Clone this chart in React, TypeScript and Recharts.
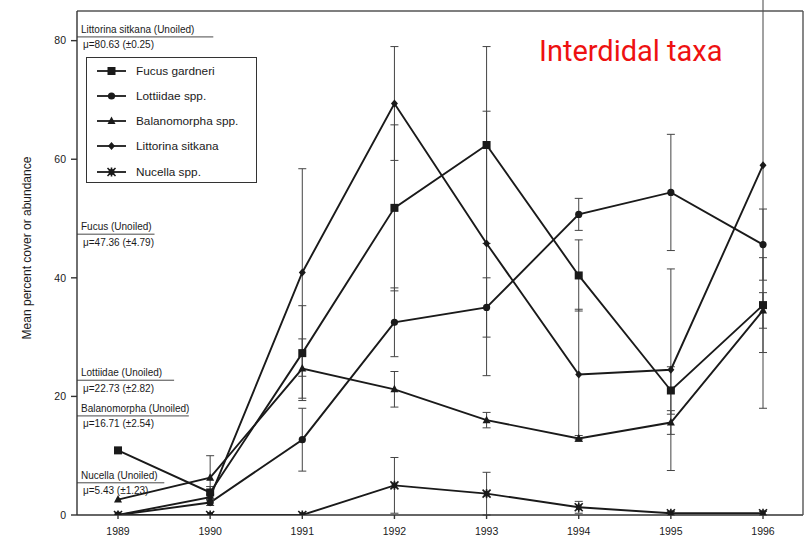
import React from 'react';
import { LineChart, Line, XAxis, YAxis, ErrorBar, Legend, ReferenceDot } from 'recharts';

const years = [1989, 1990, 1991, 1992, 1993, 1994, 1995, 1996];
const fucus = [10.9, 3.8, 27.3, 51.8, 62.4, 40.4, 21.0, 35.4];
const fucusErr = [0, 1, 8, 14, 16.6, 6, 4, 8];
const lottiidae = [0, 2.1, 12.7, 32.5, 35.0, 50.7, 54.4, 45.6];
const lottiidaeErr = [0, 0.5, 5.3, 5.8, 5, 2.7, 9.8, 6];
const balanomorpha = [2.6, 6.3, 24.7, 21.2, 16.0, 12.9, 15.6, 34.5];
const balanomorphaErr = [0, 3.7, 5, 3, 1.3, 0.5, 2, 3];
const littorina = [0, 3.0, 40.9, 69.4, 45.8, 23.7, 24.5, 59.0];
const littorinaErr = [0, 0.5, 17.5, 9.6, 22.3, 11, 17, 41];
const nucella = [0, 0, 0, 5.0, 3.6, 1.3, 0.3, 0.3];
const nucellaErr = [0, 0, 0, 4.7, 3.6, 1, 0.3, 0.3];

const seriesNames = ['Fucus gardneri', 'Lottiidae spp.', 'Balanomorpha spp.', 'Littorina sitkana', 'Nucella spp.'];
const seriesKeys = ['fucus', 'lottiidae', 'balanomorpha', 'littorina', 'nucella'];
const seriesMarkers = ['square', 'circle', 'triangle', 'diamond', 'star'];

const unoiledLabels = ['Littorina sitkana (Unoiled)', 'Fucus (Unoiled)', 'Lottiidae (Unoiled)', 'Balanomorpha (Unoiled)', 'Nucella (Unoiled)'];
const unoiledMeans = [80.63, 47.36, 22.73, 16.71, 5.43];
const unoiledSE = [0.25, 4.79, 2.82, 2.54, 1.23];

const yTicks = [0, 20, 40, 60, 80];
const xDomain = [1988.555, 1996.434];
const yDomain = [0, 85];

const data = years.map((year, i) => ({
  year,
  fucus: fucus[i], fucusErr: fucusErr[i],
  lottiidae: lottiidae[i], lottiidaeErr: lottiidaeErr[i],
  balanomorpha: balanomorpha[i], balanomorphaErr: balanomorphaErr[i],
  littorina: littorina[i], littorinaErr: littorinaErr[i],
  nucella: nucella[i], nucellaErr: nucellaErr[i],
}));

const INK = '#1a1a1a';
const FONT = '"Liberation Sans", Arial, sans-serif';

function Marker({ kind, cx, cy }: { kind: string; cx: number; cy: number }) {
  if (cx == null || cy == null) return null;
  switch (kind) {
    case 'square':
      return <rect x={cx - 4} y={cy - 4} width={8} height={8} fill={INK} />;
    case 'circle':
      return <circle cx={cx} cy={cy} r={3.6} fill={INK} />;
    case 'triangle':
      return <polygon points={`${cx},${cy - 4.5} ${cx + 4},${cy + 3} ${cx - 4},${cy + 3}`} fill={INK} />;
    case 'diamond':
      return <polygon points={`${cx},${cy - 4} ${cx + 3.5},${cy} ${cx},${cy + 4} ${cx - 3.5},${cy}`} fill={INK} />;
    default:
      return (
        <g stroke={INK} strokeWidth={1.6}>
          <line x1={cx - 4} y1={cy - 4} x2={cx + 4} y2={cy + 4} />
          <line x1={cx - 4} y1={cy + 4} x2={cx + 4} y2={cy - 4} />
          <line x1={cx} y1={cy - 4.5} x2={cx} y2={cy + 4.5} />
          <rect x={cx - 2} y={cy - 2} width={4} height={4} fill={INK} />
        </g>
      );
  }
}

const dotFn = (kind: string) => (p: any) => (
  <Marker key={`${kind}-${p.index}`} kind={kind} cx={p.cx} cy={p.cy} />
);

function LegendBox() {
  const offsets = [13, 38, 63, 88, 114];
  return (
    <div style={{ position: 'relative', width: 171, height: 126, border: '1.5px solid #333', boxSizing: 'border-box', background: '#fff', fontFamily: FONT, fontSize: 11.8, color: INK }}>
      {seriesNames.map((name, i) => (
        <div key={name} style={{ position: 'absolute', left: 0, top: offsets[i] - 7, height: 14, width: 169 }}>
          <svg width={32} height={14} style={{ position: 'absolute', left: 9, top: 0 }}>
            <line x1={1} x2={30} y1={7} y2={7} stroke={INK} strokeWidth={1.8} />
            <Marker kind={seriesMarkers[i]} cx={15.5} cy={7} />
          </svg>
          <span style={{ position: 'absolute', left: 49, top: 0, lineHeight: '14px', whiteSpace: 'nowrap' }}>{name}</span>
        </div>
      ))}
    </div>
  );
}

function Annot({ cx, cy, label, mean, se }: any) {
  if (cx == null || cy == null) return null;
  const len = label.length * 4.9 + 4;
  return (
    <g fontFamily={FONT} fontSize={10} fill={INK}>
      <text x={cx + 4} y={cy - 4}>{label}</text>
      <line x1={cx} x2={cx + len} y1={cy} y2={cy} stroke="#333" strokeWidth={0.9} />
      <text x={cx + 6} y={cy + 11.5}>{`μ=${mean.toFixed(2)} (±${se.toFixed(2)})`}</text>
    </g>
  );
}

function YLabel() {
  return (
    <text x={31} y={248} transform="rotate(-90 31 248)" textAnchor="middle" fontFamily={FONT} fontSize={12} fill={INK}>
      Mean percent cover or abundance
    </text>
  );
}

export default function App() {
  return (
    <div style={{ position: 'absolute', left: 0, top: 0, width: 806, height: 540, background: '#fff' }}>
      <LineChart width={806} height={540} data={data} margin={{ top: 10, right: 2, bottom: 0, left: 0 }}>
        <XAxis
          dataKey="year"
          type="number"
          domain={xDomain}
          allowDataOverflow
          ticks={years}
          height={25}
          tickSize={4}
          tickMargin={9}
          tick={{ fontSize: 10.5, fontFamily: FONT, fill: INK }}
          stroke="#333"
          strokeWidth={1.4}
        />
        <XAxis xAxisId="top" orientation="top" type="number" domain={[0, 1]} height={1} tick={false} tickLine={false} stroke="#555" strokeWidth={1.4} />
        <YAxis
          type="number"
          domain={yDomain}
          allowDataOverflow
          ticks={yTicks}
          width={77}
          tickSize={6}
          tickMargin={5}
          tick={{ fontSize: 10.5, fontFamily: FONT, fill: INK }}
          stroke="#333"
          strokeWidth={1.4}
          label={<YLabel />}
        />
        <YAxis yAxisId="r" orientation="right" type="number" domain={[0, 1]} width={1} tick={false} tickLine={false} stroke="#555" strokeWidth={1.4} />
        <Legend
          layout="horizontal"
          verticalAlign="middle"
          align="center"
          content={() => <LegendBox />}
          wrapperStyle={{ position: 'absolute', left: 86, top: 57, width: 171, height: 126 }}
        />
        {seriesKeys.map((k, i) => (
          <Line
            key={k}
            dataKey={k}
            name={seriesNames[i]}
            stroke={INK}
            strokeWidth={1.9}
            dot={dotFn(seriesMarkers[i])}
            activeDot={false}
            isAnimationActive={false}
          >
            <ErrorBar dataKey={`${k}Err`} direction="y" width={4} strokeWidth={1} stroke="#444" />
          </Line>
        ))}
        {unoiledLabels.map((lab, i) => (
          <ReferenceDot
            key={lab}
            x={xDomain[0]}
            y={unoiledMeans[i]}
            r={0}
            ifOverflow="visible"
            shape={(p: any) => <Annot cx={p.cx} cy={p.cy} label={lab} mean={unoiledMeans[i]} se={unoiledSE[i]} />}
          />
        ))}
      </LineChart>
      <svg width={806} height={540} style={{ position: 'absolute', left: 0, top: 0, pointerEvents: 'none' }}>
        <text x={539} y={61} fill="#ee1111" fontFamily="Roboto, sans-serif" fontSize={29}>Interdidal taxa</text>
      </svg>
    </div>
  );
}
